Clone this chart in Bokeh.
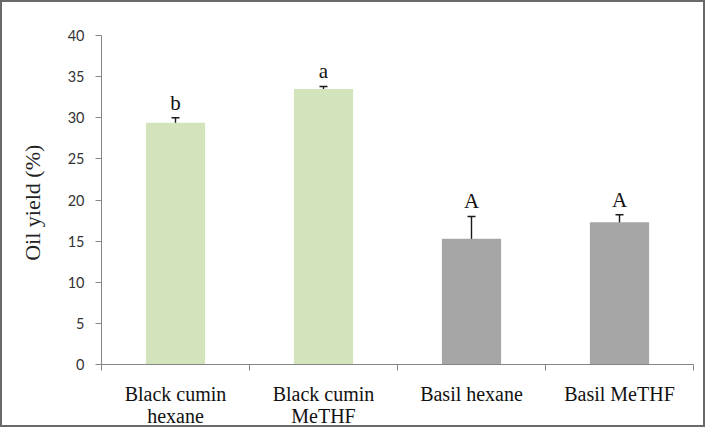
from bokeh.plotting import figure
from bokeh.models import (ColumnDataSource, Range1d, LinearAxis, FixedTicker, Whisker, TeeHead)
from bokeh.core.properties import value
from bokeh.embed import file_html
from bokeh.resources import INLINE

categories = ["Black cumin\nhexane", "Black cumin\nMeTHF", "Basil hexane", "Basil MeTHF"]
oil_yield = [29.4, 33.5, 15.3, 17.3]
std_err = [0.6, 0.3, 2.7, 0.9]
letters = ["b", "a", "A", "A"]
bar_colors = ["#d3e4bc", "#d3e4bc", "#a6a6a6", "#a6a6a6"]
y_ticks = [0, 5, 10, 15, 20, 25, 30, 35, 40]

n = len(categories)
centers = [i + 0.5 for i in range(n)]
edges = list(range(n + 1))

src = ColumnDataSource(dict(
    x=centers,
    y=oil_yield,
    upper=[v + e for v, e in zip(oil_yield, std_err)],
    lower=[v - e for v, e in zip(oil_yield, std_err)],
    letter=letters,
    color=bar_colors,
))

p = figure(x_range=Range1d(0, n), y_range=Range1d(0, 40),
           width=705, height=427, output_backend="svg", toolbar_location=None,
           x_axis_location=None, y_axis_location=None,
           min_border_left=99, min_border_top=33, min_border_bottom=63, min_border_right=14)
p.styles = {"border": "2px solid #6a6a6a"}
p.outline_line_color = None
p.xgrid.visible = False
p.ygrid.visible = False

p.vbar(x="x", top="y", width=0.4, source=src, fill_color="color", line_color=None)

p.add_layout(Whisker(source=src, base="x", upper="upper", lower="lower",
                     line_color="#1a1a1a", line_width=1.4,
                     upper_head=TeeHead(size=8, line_color="#1a1a1a", line_width=1.4),
                     lower_head=TeeHead(size=8, line_color="#1a1a1a", line_width=1.4)))

p.text(x="x", y="upper", text="letter", source=src, text_align="center",
       text_baseline="bottom", y_offset=-3, text_font=value("Liberation Serif"),
       text_font_size="21px", text_color="#111111")

# y axis
yax = LinearAxis(ticker=FixedTicker(ticks=y_ticks))
yax.axis_label = "Oil yield  (%)"
yax.axis_label_text_font = "Liberation Serif"
yax.axis_label_text_font_size = "22px"
yax.axis_label_text_font_style = "normal"
yax.axis_label_text_color = "#222222"
yax.axis_label_standoff = 20
yax.major_label_text_font = "Lato"
yax.major_label_text_font_size = "14.5px"
yax.major_label_text_color = "#333333"
yax.major_label_standoff = 11
yax.axis_line_color = "#868686"
yax.major_tick_line_color = "#868686"
yax.major_tick_out = 6
yax.major_tick_in = 0
yax.minor_tick_line_color = None
p.add_layout(yax, "left")

# x axis boundary ticks
edge_ax = LinearAxis(ticker=FixedTicker(ticks=edges))
edge_ax.major_label_overrides = {e: "" for e in edges}
edge_ax.major_label_text_font_size = "1px"
edge_ax.major_label_standoff = 0
edge_ax.axis_line_color = "#868686"
edge_ax.major_tick_line_color = "#868686"
edge_ax.major_tick_out = 6
edge_ax.major_tick_in = 0
edge_ax.minor_tick_line_color = None
p.add_layout(edge_ax, "below")

# x axis category labels
cat_ax = LinearAxis(ticker=FixedTicker(ticks=centers))
cat_ax.major_label_overrides = {c: lab for c, lab in zip(centers, categories)}
cat_ax.axis_line_color = None
cat_ax.major_tick_line_color = None
cat_ax.minor_tick_line_color = None
cat_ax.major_label_text_font = "Liberation Serif"
cat_ax.major_label_text_font_size = "20px"
cat_ax.major_label_text_line_height = 1.0
cat_ax.major_label_text_color = "#111111"
cat_ax.major_label_standoff = 6
p.add_layout(cat_ax, "below")

open("out.html", "w").write(file_html(p, INLINE))
